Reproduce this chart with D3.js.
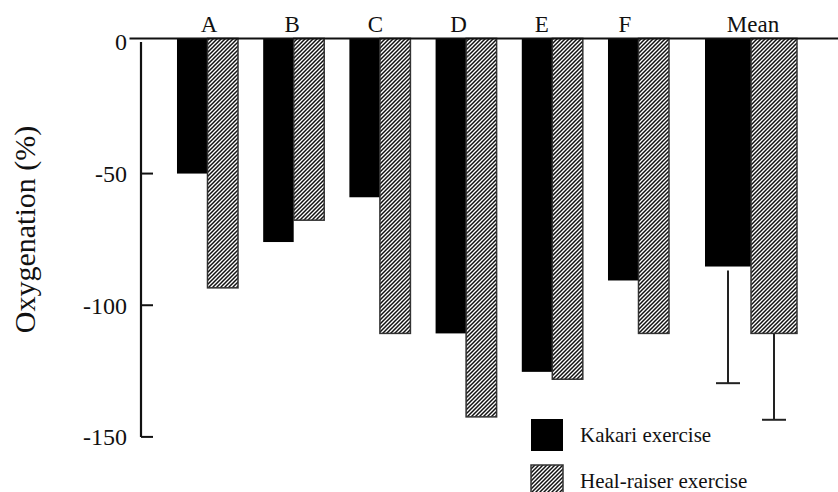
<!DOCTYPE html>
<html>
<head>
<meta charset="utf-8">
<script src="https://cdn.jsdelivr.net/npm/d3@7"></script>
<style>
  body { margin: 0; background: #fff; }
  text { font-family: "Liberation Serif", "Times New Roman", serif; fill: #111; }
</style>
</head>
<body>
<svg id="chart" width="838" height="492"></svg>
<script>
// Data (oxygenation change, %)
const subjects = ["A", "B", "C", "D", "E", "F"];
const series = ["Kakari exercise", "Heal-raiser exercise"];
const kakari = [-50, -76, -59, -110.7, -125.3, -90.6];
const healRaiser = [-93.4, -67.7, -110.7, -142.4, -128.1, -110.7];
const meanValues = [-85.3, -110.7];
const meanSD = [44.3, 32.8];
const yTicks = [0, -50, -100, -150];

const svg = d3.select("#chart");

// y scale: 0 at top, -150 at bottom
const y = d3.scaleLinear().domain([0, -150]).range([41.9, 436.9]);
const zeroY = y(0) - 3.5;

// x scales for the individual subjects
const x = d3.scaleBand()
  .domain(subjects)
  .range([164.4, 681.6])
  .paddingInner(0.292)
  .paddingOuter(0.146);
const xSub = d3.scaleBand().domain(series).range([0, x.bandwidth()]);

// the mean group sits after a wider gap and has wider bars
const xMean = d3.scaleBand().domain(["Mean"]).range([x.range()[1] + 23.4, x.range()[1] + 115.4]);
const xMeanSub = d3.scaleBand().domain(series).range([0, xMean.bandwidth()]);

// category labels are spaced a little tighter than the bars
const labelX = d3.scalePoint().domain(subjects).range([209, 625]);

// hatch pattern
const defs = svg.append("defs");
const pat = defs.append("pattern")
  .attr("id", "hatch")
  .attr("patternUnits", "userSpaceOnUse")
  .attr("width", 4)
  .attr("height", 4);
pat.append("rect").attr("width", 4).attr("height", 4).attr("fill", "#fff");
pat.append("path")
  .attr("d", "M0,4 L4,0 M-1,1 L1,-1 M3,5 L5,3")
  .attr("stroke", "#111")
  .attr("stroke-width", 1.5);

const fills = ["#000", "url(#hatch)"];
const strokes = ["none", "#333"];

// subject bars
const rows = [];
subjects.forEach((s, i) => {
  rows.push({ key: s, series: series[0], value: kakari[i], idx: 0 });
  rows.push({ key: s, series: series[1], value: healRaiser[i], idx: 1 });
});

svg.append("g").selectAll("rect")
  .data(rows)
  .enter()
  .append("rect")
  .attr("x", d => x(d.key) + xSub(d.series))
  .attr("y", zeroY)
  .attr("width", xSub.bandwidth())
  .attr("height", d => y(d.value) - zeroY)
  .attr("fill", d => fills[d.idx])
  .attr("stroke", d => strokes[d.idx])
  .attr("stroke-width", 1.5);

// mean bars
const meanRows = series.map((s, i) => ({ series: s, value: meanValues[i], sd: meanSD[i], idx: i }));

svg.append("g").selectAll("rect")
  .data(meanRows)
  .enter()
  .append("rect")
  .attr("x", d => xMean("Mean") + xMeanSub(d.series))
  .attr("y", zeroY)
  .attr("width", xMeanSub.bandwidth())
  .attr("height", d => y(d.value) - zeroY)
  .attr("fill", d => fills[d.idx])
  .attr("stroke", d => strokes[d.idx])
  .attr("stroke-width", 1.5);

// error bars (downward SD)
const err = svg.append("g").attr("stroke", "#222").attr("stroke-width", 2);
meanRows.forEach(d => {
  const cx = xMean("Mean") + xMeanSub(d.series) + xMeanSub.bandwidth() / 2;
  const y0 = y(d.value) + (d.idx === 0 ? 4 : 0);
  const y1 = y(d.value - d.sd);
  err.append("line").attr("x1", cx).attr("x2", cx).attr("y1", y0).attr("y2", y1);
  err.append("line").attr("x1", cx - 12).attr("x2", cx + 12).attr("y1", y1).attr("y2", y1);
});

// zero line across the top
svg.append("line")
  .attr("x1", 129.5).attr("x2", 838)
  .attr("y1", zeroY).attr("y2", zeroY)
  .attr("stroke", "#111").attr("stroke-width", 2);

// y axis with ticks on the right side
const axisX = 141;
svg.append("line")
  .attr("x1", axisX).attr("x2", axisX)
  .attr("y1", y(0)).attr("y2", y(-150))
  .attr("stroke", "#111").attr("stroke-width", 2.2);

svg.append("g").selectAll("line")
  .data(yTicks.filter(t => t !== 0))
  .enter()
  .append("line")
  .attr("x1", axisX).attr("x2", axisX + 12)
  .attr("y1", d => y(d)).attr("y2", d => y(d))
  .attr("stroke", "#111").attr("stroke-width", 2);

svg.append("g").selectAll("text")
  .data(yTicks)
  .enter()
  .append("text")
  .attr("x", 127)
  .attr("y", d => y(d))
  .attr("dy", "0.35em")
  .attr("text-anchor", "end")
  .style("font-size", "24px")
  .text(d => d);

// y axis title
svg.append("text")
  .attr("transform", "translate(35,229.5) rotate(-90)")
  .attr("text-anchor", "middle")
  .style("font-size", "30px")
  .text("Oxygenation (%)");

// category labels along the top
svg.append("g").selectAll("text")
  .data(subjects)
  .enter()
  .append("text")
  .attr("x", d => labelX(d))
  .attr("y", 32)
  .attr("text-anchor", "middle")
  .style("font-size", "23px")
  .text(d => d);

svg.append("text")
  .attr("x", xMean("Mean") + xMean.bandwidth() / 2 + 2)
  .attr("y", 32)
  .attr("text-anchor", "middle")
  .style("font-size", "23px")
  .text("Mean");

// legend
const legend = svg.append("g").attr("transform", "translate(531,419)");
series.forEach((s, i) => {
  const g = legend.append("g").attr("transform", `translate(0,${i * 46})`);
  g.append("rect")
    .attr("width", 32).attr("height", 32)
    .attr("fill", fills[i])
    .attr("stroke", i === 0 ? "none" : "#333")
    .attr("stroke-width", 1.5);
  g.append("text")
    .attr("x", 49)
    .attr("y", 22.5)
    .style("font-size", "21px")
    .text(s);
});
</script>
</body>
</html>
